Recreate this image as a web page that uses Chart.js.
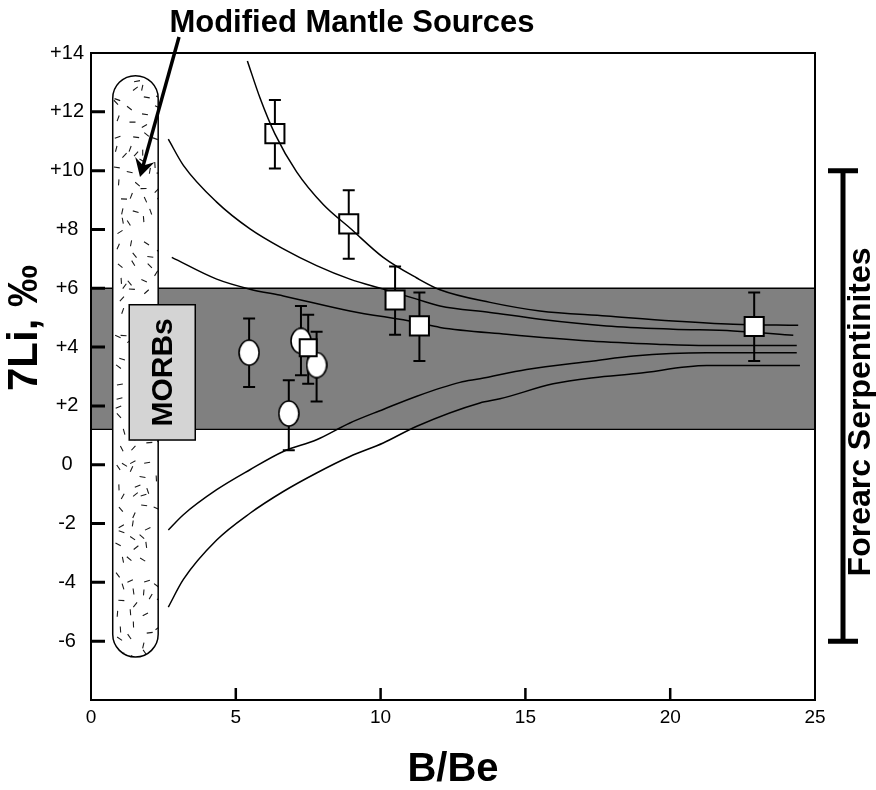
<!DOCTYPE html>
<html>
<head>
<meta charset="utf-8">
<script src="https://cdn.jsdelivr.net/npm/chart.js@4.4.1/dist/chart.umd.min.js"></script>
<style>
    html, body { margin: 0; padding: 0; background: #fff; }
    #chart-root { position: relative; width: 876px; height: 790px; }
</style>
</head>
<body>
<div id="chart-root"><canvas id="chart-canvas"></canvas></div>
<script>
// Mixing curves (B/Be on x, 7Li permil on y)
const curveAX = [5.40, 5.84, 6.35, 7.10, 8.02, 8.94, 10.09, 11.25, 12.05, 13.78, 15.5, 17.8, 20.1, 22.18, 24.42]
const curveAY = [13.73, 12.46, 11.25, 9.96, 8.85, 8.05, 7.05, 6.35, 5.95, 5.52, 5.23, 5.06, 4.89, 4.78, 4.74]
const curveBX = [2.67, 3.19, 4.34, 5.49, 6.64, 7.79, 8.94, 10.09, 11.25, 12.05, 13.78, 15.5, 17.8, 20.1, 22.18, 24.25]
const curveBY = [11.07, 10.18, 8.93, 8.02, 7.34, 6.77, 6.31, 5.97, 5.63, 5.40, 5.18, 4.95, 4.72, 4.61, 4.55, 4.40]
const curveCX = [2.79, 4.34, 5.49, 6.64, 8.94, 11.25, 12.05, 14.35, 17.23, 19.53, 21.26, 24.37]
const curveCY = [7.05, 6.31, 5.97, 5.74, 5.23, 4.84, 4.67, 4.44, 4.21, 4.10, 4.05, 4.05]
const curveDX = [2.67, 3.19, 4.34, 5.49, 6.64, 7.79, 8.94, 10.09, 11.25, 12.74, 13.43, 15.04, 17.35, 18.73, 21.26, 24.37]
const curveDY = [-2.22, -1.70, -0.85, -0.17, 0.45, 0.85, 1.42, 1.88, 2.33, 2.80, 2.92, 3.24, 3.53, 3.70, 3.81, 3.81]
const curveEX = [2.67, 3.19, 4.34, 5.49, 6.64, 7.79, 8.94, 10.09, 11.25, 13.43, 14.12, 15.96, 17.35, 18.84, 21.26, 24.48]
const curveEY = [-4.84, -3.90, -2.56, -1.65, -0.91, -0.28, 0.28, 0.74, 1.31, 2.10, 2.24, 2.75, 2.96, 3.10, 3.37, 3.37]

// forearc serpentinite samples (open squares), the first two sit under the top curve
const upperSquareX = [6.35, 8.90]
const upperSquareY = [11.26, 8.19]
const upperSquareHigh = [12.40, 9.33]
const upperSquareLow = [10.07, 7.00]
const squareX = [10.50, 11.34, 22.90, 7.50]
const squareY = [5.60, 4.72, 4.70, 3.98]
const squareHigh = [6.74, 5.86, 5.86, 5.10]
const squareLow = [4.42, 3.53, 3.53, 2.75]

// open circles
const circleX = [5.46, 7.25, 7.79, 6.83]
const circleY = [3.81, 4.21, 3.39, 1.74]
const circleHigh = [4.97, 5.40, 4.52, 2.87]
const circleLow = [2.64, 3.04, 2.15, 0.49]

// reference fields
const bandRange = [1.2, 6.0]
const mantleX = [0.75, 2.32]
const mantleY = [-6.54, 13.23]
const morbX = [1.32, 3.60]
const morbY = [0.84, 5.44]
const forearcRange = [-6, 10]

const xTicks = [0, 5, 10, 15, 20, 25]
const yTicks = [-6, -4, -2, 0, 2, 4, 6, 8, 10, 12, 14]

const FONT = "'Liberation Sans', Arial, sans-serif"

function toPoints(xs, ys) {
    return xs.map((x, i) => ({ x: x, y: ys[i] }))
}

function makeEllipse(w, h) {
    const c = document.createElement('canvas')
    c.width = w
    c.height = h
    const g = c.getContext('2d')
    g.beginPath()
    g.ellipse(w / 2, h / 2, w / 2 - 1, h / 2 - 1, 0, 0, Math.PI * 2)
    g.fillStyle = '#fff'
    g.fill()
    g.lineWidth = 1.6
    g.strokeStyle = '#000'
    g.stroke()
    return c
}

// small deterministic hash for the stipple texture of the mantle field
function hash(i, j) {
    const s = Math.sin(i * 12.9898 + j * 78.233) * 43758.5453
    return s - Math.floor(s)
}

function capsulePath(ctx, x0, y0, x1, y1) {
    const r = (x1 - x0) / 2
    ctx.beginPath()
    ctx.moveTo(x0, y0 + r)
    ctx.arc(x0 + r, y0 + r, r, Math.PI, 0)
    ctx.lineTo(x1, y1 - r)
    ctx.arc(x0 + r, y1 - r, r, 0, Math.PI)
    ctx.closePath()
}

function drawErrorBars(ctx, x, y, xs, highs, lows) {
    ctx.strokeStyle = '#000'
    ctx.lineWidth = 2
    ctx.beginPath()
    for (let i = 0; i < xs.length; i++) {
        const px = x.getPixelForValue(xs[i])
        const top = y.getPixelForValue(highs[i])
        const bot = y.getPixelForValue(lows[i])
        ctx.moveTo(px, top)
        ctx.lineTo(px, bot)
        ctx.moveTo(px - 6, top)
        ctx.lineTo(px + 6, top)
        ctx.moveTo(px - 6, bot)
        ctx.lineTo(px + 6, bot)
    }
    ctx.stroke()
}

const backdropPlugin = {
    id: 'backdrop',
    beforeDatasetsDraw(chart) {
        const { ctx, chartArea: a, scales: { x, y } } = chart
        ctx.save()
        // gray band of mantle values
        const bTop = y.getPixelForValue(bandRange[1])
        const bBot = y.getPixelForValue(bandRange[0])
        ctx.fillStyle = '#808080'
        ctx.fillRect(a.left, bTop, a.right - a.left, bBot - bTop)
        ctx.strokeStyle = '#000'
        ctx.lineWidth = 1.3
        ctx.beginPath()
        ctx.moveTo(a.left, bTop)
        ctx.lineTo(a.right, bTop)
        ctx.moveTo(a.left, bBot)
        ctx.lineTo(a.right, bBot)
        ctx.stroke()

        // modified mantle sources capsule
        const cx0 = x.getPixelForValue(mantleX[0])
        const cx1 = x.getPixelForValue(mantleX[1])
        const cy0 = y.getPixelForValue(mantleY[1])
        const cy1 = y.getPixelForValue(mantleY[0])
        capsulePath(ctx, cx0, cy0, cx1, cy1)
        ctx.fillStyle = '#fff'
        ctx.fill()
        ctx.save()
        ctx.clip()
        ctx.strokeStyle = '#1a1a1a'
        ctx.lineWidth = 1.1
        ctx.beginPath()
        const step = 13
        for (let j = 0; cy0 + j * step < cy1; j++) {
            for (let i = 0; cx0 + i * step < cx1; i++) {
                const px = cx0 + 3 + i * step + hash(i, j) * (step - 4)
                const py = cy0 + j * step + hash(j + 7, i + 3) * step
                const ang = hash(i * 3 + 1, j * 5 + 2) * Math.PI
                const len = 3
                ctx.moveTo(px - Math.cos(ang) * len, py - Math.sin(ang) * len)
                ctx.lineTo(px + Math.cos(ang) * len, py + Math.sin(ang) * len)
            }
        }
        ctx.stroke()
        ctx.restore()
        capsulePath(ctx, cx0, cy0, cx1, cy1)
        ctx.strokeStyle = '#000'
        ctx.lineWidth = 1.5
        ctx.stroke()

        // MORBs box
        const mx0 = x.getPixelForValue(morbX[0])
        const mx1 = x.getPixelForValue(morbX[1])
        const my0 = y.getPixelForValue(morbY[1])
        const my1 = y.getPixelForValue(morbY[0])
        ctx.fillStyle = '#d4d4d4'
        ctx.fillRect(mx0, my0, mx1 - mx0, my1 - my0)
        ctx.lineWidth = 1.5
        ctx.strokeRect(mx0, my0, mx1 - mx0, my1 - my0)
        ctx.save()
        ctx.translate((mx0 + mx1) / 2, (my0 + my1) / 2)
        ctx.rotate(-Math.PI / 2)
        ctx.fillStyle = '#000'
        ctx.font = 'bold 30px ' + FONT
        ctx.textAlign = 'center'
        ctx.textBaseline = 'middle'
        ctx.fillText('MORBs', 0, 1)
        ctx.restore()

        drawErrorBars(ctx, x, y, upperSquareX, upperSquareHigh, upperSquareLow)
        drawErrorBars(ctx, x, y, squareX, squareHigh, squareLow)
        drawErrorBars(ctx, x, y, circleX, circleHigh, circleLow)
        ctx.restore()
    },
    afterDatasetsDraw(chart) {
        const { ctx, chartArea: a, scales: { x, y } } = chart
        ctx.save()
        // frame
        ctx.strokeStyle = '#000'
        ctx.lineWidth = 2
        ctx.strokeRect(a.left, a.top, a.right - a.left, a.bottom - a.top)

        // inward ticks
        ctx.lineWidth = 3
        ctx.beginPath()
        yTicks.filter(v => v < 14).forEach(v => {
            const py = y.getPixelForValue(v)
            ctx.moveTo(a.left, py)
            ctx.lineTo(a.left + 14, py)
        })
        ctx.stroke()
        ctx.lineWidth = 2.5
        ctx.beginPath()
        xTicks.filter(v => v > 0 && v < 25).forEach(v => {
            const px = x.getPixelForValue(v)
            ctx.moveTo(px, a.bottom)
            ctx.lineTo(px, a.bottom - 12)
        })
        ctx.stroke()

        // arrow pointing at the mantle field
        const tipX = 140, tipY = 177, tailX = 179, tailY = 37
        const ang = Math.atan2(tipY - tailY, tipX - tailX)
        ctx.lineWidth = 3.5
        ctx.beginPath()
        ctx.moveTo(tailX, tailY)
        ctx.lineTo(tipX - Math.cos(ang) * 10, tipY - Math.sin(ang) * 10)
        ctx.stroke()
        ctx.beginPath()
        ctx.moveTo(tipX, tipY)
        ctx.lineTo(tipX - Math.cos(ang) * 18 + Math.sin(ang) * 10, tipY - Math.sin(ang) * 18 - Math.cos(ang) * 10)
        ctx.lineTo(tipX - Math.cos(ang) * 12, tipY - Math.sin(ang) * 12)
        ctx.lineTo(tipX - Math.cos(ang) * 18 - Math.sin(ang) * 10, tipY - Math.sin(ang) * 18 + Math.cos(ang) * 10)
        ctx.closePath()
        ctx.fillStyle = '#000'
        ctx.fill()

        ctx.font = 'bold 31px ' + FONT
        ctx.textAlign = 'center'
        ctx.textBaseline = 'alphabetic'
        ctx.fillText('Modified Mantle Sources', 352, 32)

        // forearc serpentinite range bar
        const fTop = y.getPixelForValue(forearcRange[1])
        const fBot = y.getPixelForValue(forearcRange[0])
        ctx.lineWidth = 5
        ctx.beginPath()
        ctx.moveTo(843, fTop)
        ctx.lineTo(843, fBot)
        ctx.moveTo(828, fTop)
        ctx.lineTo(858, fTop)
        ctx.moveTo(828, fBot)
        ctx.lineTo(858, fBot)
        ctx.stroke()
        ctx.save()
        ctx.translate(861, (fTop + fBot) / 2 + 6)
        ctx.rotate(-Math.PI / 2)
        ctx.font = 'bold 32px ' + FONT
        ctx.textBaseline = 'middle'
        ctx.fillText('Forearc Serpentinites', 0, 0)
        ctx.restore()

        // axis titles
        ctx.font = 'bold 40px ' + FONT
        ctx.textBaseline = 'middle'
        ctx.fillText('B/Be', 453, 770)
        ctx.save()
        ctx.translate(25, 328)
        ctx.rotate(-Math.PI / 2)
        ctx.font = 'bold 42px ' + FONT
        ctx.fillText('7Li, \u2030', 0, 0)
        ctx.restore()
        ctx.restore()
    }
}

class MixingChart {
    constructor(parentElement) {
        this.canvas = parentElement.querySelector('canvas')
        this.context = this.canvas.getContext('2d')
        this.circleImage = makeEllipse(22, 27)
        this.chart = new Chart(this.context, {
            type: 'scatter',
            plugins: [backdropPlugin],
            data: { datasets: this.buildDatasets() },
            options: {
                animation: false,
                responsive: true,
                maintainAspectRatio: false,
                events: [],
                layout: { padding: { top: 53, right: 61, left: 0, bottom: 0 } },
                plugins: { legend: { display: false }, tooltip: { enabled: false } },
                scales: this.buildScales()
            }
        })
    }

    lineDataset(xs, ys) {
        return {
            type: 'line',
            data: toPoints(xs, ys),
            borderColor: '#000',
            borderWidth: 1.5,
            pointRadius: 0,
            cubicInterpolationMode: 'monotone',
            fill: false,
            order: 2
        }
    }

    buildDatasets() {
        return [
            {
                data: toPoints(upperSquareX, upperSquareY),
                pointStyle: 'rect',
                pointRadius: 13.5,
                pointBorderWidth: 2,
                pointBackgroundColor: '#fff',
                pointBorderColor: '#000',
                order: 3
            },
            this.lineDataset(curveAX, curveAY),
            this.lineDataset(curveBX, curveBY),
            this.lineDataset(curveCX, curveCY),
            this.lineDataset(curveDX, curveDY),
            this.lineDataset(curveEX, curveEY),
            {
                data: toPoints(circleX, circleY),
                pointStyle: this.circleImage,
                order: 1
            },
            {
                data: toPoints(squareX, squareY),
                pointStyle: 'rect',
                pointRadius: [13.5, 13.5, 13.5, 12],
                pointBorderWidth: 2,
                pointBackgroundColor: '#fff',
                pointBorderColor: '#000',
                order: 0
            }
        ]
    }

    buildScales() {
        return {
            x: {
                type: 'linear',
                min: 0,
                max: 25,
                afterFit: scale => { scale.height = 90 },
                afterBuildTicks: scale => { scale.ticks = xTicks.map(v => ({ value: v })) },
                grid: { display: false, drawTicks: false },
                border: { display: false },
                ticks: {
                    color: '#000',
                    padding: 6,
                    maxRotation: 0,
                    font: { family: FONT, size: 19 }
                }
            },
            y: {
                type: 'linear',
                min: -8,
                max: 14,
                afterFit: scale => { scale.width = 91 },
                afterBuildTicks: scale => { scale.ticks = yTicks.map(v => ({ value: v })) },
                grid: { display: false, drawTicks: false },
                border: { display: false },
                ticks: {
                    color: '#000',
                    padding: 7,
                    crossAlign: 'center',
                    font: { family: FONT, size: 20 },
                    callback: v => (v > 0 ? '+' + v : '' + v)
                }
            }
        }
    }
}

new MixingChart(document.getElementById('chart-root'))
</script>
</body>
</html>
